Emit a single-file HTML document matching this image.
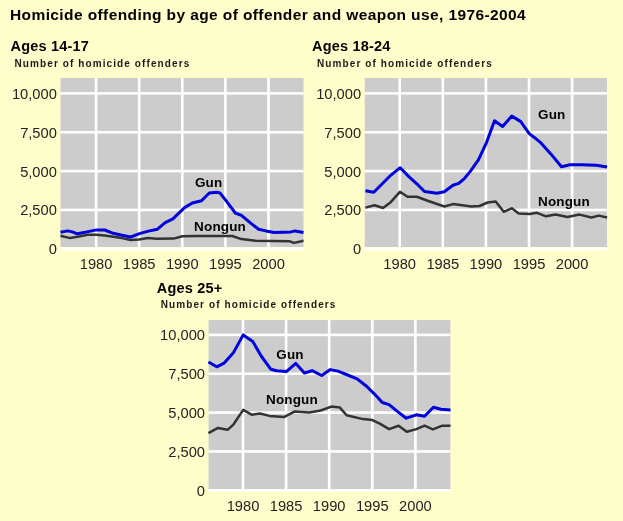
<!DOCTYPE html>
<html><head><meta charset="utf-8"><style>
html,body{margin:0;padding:0;background:#FFFFCC;}
body{width:623px;height:521px;overflow:hidden;}
svg{display:block;filter:blur(0.3px);}
text{font-family:"Liberation Sans",sans-serif;fill:#000;}
.tt{font-weight:bold;font-size:15.5px;letter-spacing:0.4px;}
.hd{font-weight:bold;font-size:14.5px;letter-spacing:0.2px;}
.sb{font-weight:bold;font-size:10px;letter-spacing:1.1px;fill:#1a1a1a;}
.ax{font-size:14.7px;letter-spacing:0px;fill:#222;}
.lb{font-weight:bold;font-size:13.5px;letter-spacing:0.15px;}
</style></head><body>
<svg width="623" height="521" viewBox="0 0 623 521">
<rect width="623" height="521" fill="#FFFFCC"/>
<text x="10" y="20.3" class="tt">Homicide offending by age of offender and weapon use, 1976-2004</text>
<rect x="60.5" y="78.0" width="243.0" height="169.0" fill="#CCCCCC"/>
<rect x="60.5" y="92.10" width="243.0" height="2.6" fill="#FFFFFF"/>
<rect x="60.5" y="130.95" width="243.0" height="2.6" fill="#FFFFFF"/>
<rect x="60.5" y="169.80" width="243.0" height="2.6" fill="#FFFFFF"/>
<rect x="60.5" y="208.65" width="243.0" height="2.6" fill="#FFFFFF"/>
<rect x="60.5" y="247.50" width="243.0" height="2.6" fill="#FFFFFF"/>
<rect x="94.80" y="78.0" width="2.6" height="169.0" fill="#FFFFFF"/>
<rect x="137.90" y="78.0" width="2.6" height="169.0" fill="#FFFFFF"/>
<rect x="181.00" y="78.0" width="2.6" height="169.0" fill="#FFFFFF"/>
<rect x="224.10" y="78.0" width="2.6" height="169.0" fill="#FFFFFF"/>
<rect x="267.20" y="78.0" width="2.6" height="169.0" fill="#FFFFFF"/>
<text x="56.9" y="98.9" class="ax" text-anchor="end">10,000</text>
<text x="56.9" y="137.7" class="ax" text-anchor="end">7,500</text>
<text x="56.9" y="176.6" class="ax" text-anchor="end">5,000</text>
<text x="56.9" y="215.4" class="ax" text-anchor="end">2,500</text>
<text x="56.9" y="254.2" class="ax" text-anchor="end">0</text>
<text x="96.1" y="269.2" class="ax" text-anchor="middle">1980</text>
<text x="139.2" y="269.2" class="ax" text-anchor="middle">1985</text>
<text x="182.3" y="269.2" class="ax" text-anchor="middle">1990</text>
<text x="225.4" y="269.2" class="ax" text-anchor="middle">1995</text>
<text x="268.5" y="269.2" class="ax" text-anchor="middle">2000</text>
<text x="10.5" y="50.9" class="hd">Ages 14-17</text>
<text x="14.5" y="66.8" class="sb">Number of homicide offenders</text>
<polyline points="60.5,235.7 70.2,238.1 78.9,236.5 87.5,234.7 96.1,234.7 104.7,235.5 113.3,236.8 122.0,238.1 130.6,240.0 139.2,239.4 147.8,238.1 156.5,238.7 173.7,238.6 182.3,236.2 195.4,236.0 210.7,236.0 232.2,236.0 241.4,239.1 255.4,240.8 289.9,241.3 294.0,242.9 303.5,240.8" fill="none" stroke="#333333" stroke-width="2.5" stroke-linejoin="round"/>
<polyline points="60.5,232.3 67.6,230.9 72.4,231.9 77.3,233.8 86.9,231.9 96.5,229.9 104.7,230.0 113.3,233.3 122.0,235.3 130.6,237.0 139.5,233.6 148.5,231.1 157.5,229.2 165.2,222.7 172.9,218.9 184.6,207.6 192.3,203.0 201.5,200.7 209.2,193.0 216.9,192.3 220.0,193.0 226.0,200.7 235.3,213.0 241.4,215.3 251.3,223.6 258.6,229.3 265.9,230.9 274.2,232.4 290.9,231.9 295.0,230.9 303.5,232.4" fill="none" stroke="#0000DD" stroke-width="3.0" stroke-linejoin="round"/>
<text x="194.9" y="186.9" class="lb">Gun</text>
<text x="194.1" y="231.4" class="lb">Nongun</text>
<rect x="364.7" y="78.0" width="242.3" height="169.0" fill="#CCCCCC"/>
<rect x="364.7" y="92.10" width="242.3" height="2.6" fill="#FFFFFF"/>
<rect x="364.7" y="130.95" width="242.3" height="2.6" fill="#FFFFFF"/>
<rect x="364.7" y="169.80" width="242.3" height="2.6" fill="#FFFFFF"/>
<rect x="364.7" y="208.65" width="242.3" height="2.6" fill="#FFFFFF"/>
<rect x="364.7" y="247.50" width="242.3" height="2.6" fill="#FFFFFF"/>
<rect x="398.40" y="78.0" width="2.6" height="169.0" fill="#FFFFFF"/>
<rect x="441.50" y="78.0" width="2.6" height="169.0" fill="#FFFFFF"/>
<rect x="484.60" y="78.0" width="2.6" height="169.0" fill="#FFFFFF"/>
<rect x="527.70" y="78.0" width="2.6" height="169.0" fill="#FFFFFF"/>
<rect x="570.80" y="78.0" width="2.6" height="169.0" fill="#FFFFFF"/>
<text x="361.1" y="98.9" class="ax" text-anchor="end">10,000</text>
<text x="361.1" y="137.7" class="ax" text-anchor="end">7,500</text>
<text x="361.1" y="176.6" class="ax" text-anchor="end">5,000</text>
<text x="361.1" y="215.4" class="ax" text-anchor="end">2,500</text>
<text x="361.1" y="254.2" class="ax" text-anchor="end">0</text>
<text x="399.7" y="269.2" class="ax" text-anchor="middle">1980</text>
<text x="442.8" y="269.2" class="ax" text-anchor="middle">1985</text>
<text x="485.9" y="269.2" class="ax" text-anchor="middle">1990</text>
<text x="529.0" y="269.2" class="ax" text-anchor="middle">1995</text>
<text x="572.1" y="269.2" class="ax" text-anchor="middle">2000</text>
<text x="312.0" y="50.9" class="hd">Ages 18-24</text>
<text x="317.0" y="66.8" class="sb">Number of homicide offenders</text>
<polyline points="365.4,207.6 374.6,205.3 383.0,208.0 390.7,202.2 399.9,191.8 407.6,196.8 416.8,196.8 427.6,200.7 444.3,206.5 453.0,204.1 471.5,206.5 479.5,206.0 487.6,202.5 495.7,201.4 503.7,211.8 511.8,208.3 518.7,213.4 530.0,214.0 536.4,212.7 546.0,216.3 555.5,214.6 567.5,217.0 579.5,214.6 591.5,217.5 598.7,215.6 607.1,217.5" fill="none" stroke="#333333" stroke-width="2.5" stroke-linejoin="round"/>
<polyline points="365.4,190.7 373.8,192.2 383.0,183.0 390.7,175.3 400.2,167.7 409.1,176.9 416.8,183.8 424.5,191.5 436.9,193.3 444.3,191.7 453.0,185.3 458.8,183.4 464.6,178.3 470.3,171.4 478.4,159.9 486.5,142.6 494.5,120.7 502.6,126.5 511.8,116.1 520.8,121.6 529.2,133.6 534.0,137.2 541.2,143.2 550.8,153.9 561.5,166.7 570.0,164.7 582.0,164.7 596.3,165.2 607.1,167.1" fill="none" stroke="#0000DD" stroke-width="3.0" stroke-linejoin="round"/>
<text x="538.0" y="119.0" class="lb">Gun</text>
<text x="538.0" y="205.5" class="lb">Nongun</text>
<rect x="208.6" y="320.1" width="241.8" height="169.0" fill="#CCCCCC"/>
<rect x="208.6" y="333.60" width="241.8" height="2.6" fill="#FFFFFF"/>
<rect x="208.6" y="372.45" width="241.8" height="2.6" fill="#FFFFFF"/>
<rect x="208.6" y="411.30" width="241.8" height="2.6" fill="#FFFFFF"/>
<rect x="208.6" y="450.15" width="241.8" height="2.6" fill="#FFFFFF"/>
<rect x="208.6" y="489.00" width="241.8" height="2.6" fill="#FFFFFF"/>
<rect x="241.70" y="320.1" width="2.6" height="169.0" fill="#FFFFFF"/>
<rect x="284.80" y="320.1" width="2.6" height="169.0" fill="#FFFFFF"/>
<rect x="327.90" y="320.1" width="2.6" height="169.0" fill="#FFFFFF"/>
<rect x="371.00" y="320.1" width="2.6" height="169.0" fill="#FFFFFF"/>
<rect x="414.10" y="320.1" width="2.6" height="169.0" fill="#FFFFFF"/>
<text x="205.0" y="340.3" class="ax" text-anchor="end">10,000</text>
<text x="205.0" y="379.2" class="ax" text-anchor="end">7,500</text>
<text x="205.0" y="418.0" class="ax" text-anchor="end">5,000</text>
<text x="205.0" y="456.9" class="ax" text-anchor="end">2,500</text>
<text x="205.0" y="495.7" class="ax" text-anchor="end">0</text>
<text x="243.0" y="511.3" class="ax" text-anchor="middle">1980</text>
<text x="286.1" y="511.3" class="ax" text-anchor="middle">1985</text>
<text x="329.2" y="511.3" class="ax" text-anchor="middle">1990</text>
<text x="372.3" y="511.3" class="ax" text-anchor="middle">1995</text>
<text x="415.4" y="511.3" class="ax" text-anchor="middle">2000</text>
<text x="156.8" y="292.9" class="hd">Ages 25+</text>
<text x="160.7" y="307.8" class="sb">Number of homicide offenders</text>
<polyline points="208.4,433.2 218.0,427.9 227.6,429.8 233.6,424.3 243.2,409.9 251.6,414.7 260.0,413.5 269.5,415.9 284.0,417.1 294.8,411.4 309.2,412.4 320.7,410.5 331.3,406.6 339.9,407.6 346.6,415.3 362.9,419.1 372.5,420.1 380.2,423.9 389.1,429.1 398.6,425.7 406.8,431.8 416.4,429.1 424.6,425.7 432.8,429.4 442.3,425.7 450.5,425.7" fill="none" stroke="#333333" stroke-width="2.5" stroke-linejoin="round"/>
<polyline points="208.4,362.0 216.8,366.8 224.0,363.2 233.6,352.4 243.2,334.9 252.8,341.6 261.2,356.0 270.7,369.2 276.7,370.8 286.3,371.6 295.8,363.4 304.4,373.0 312.1,370.7 321.7,375.5 330.3,369.6 338.0,371.1 347.6,375.0 357.2,378.8 366.8,386.5 374.5,394.1 382.3,402.5 389.1,404.6 397.3,411.4 406.2,418.2 416.4,414.8 424.6,416.2 433.4,407.3 440.9,409.3 450.5,410.0" fill="none" stroke="#0000DD" stroke-width="3.0" stroke-linejoin="round"/>
<text x="276.3" y="359.1" class="lb">Gun</text>
<text x="266.0" y="404.4" class="lb">Nongun</text>
</svg>
</body></html>
